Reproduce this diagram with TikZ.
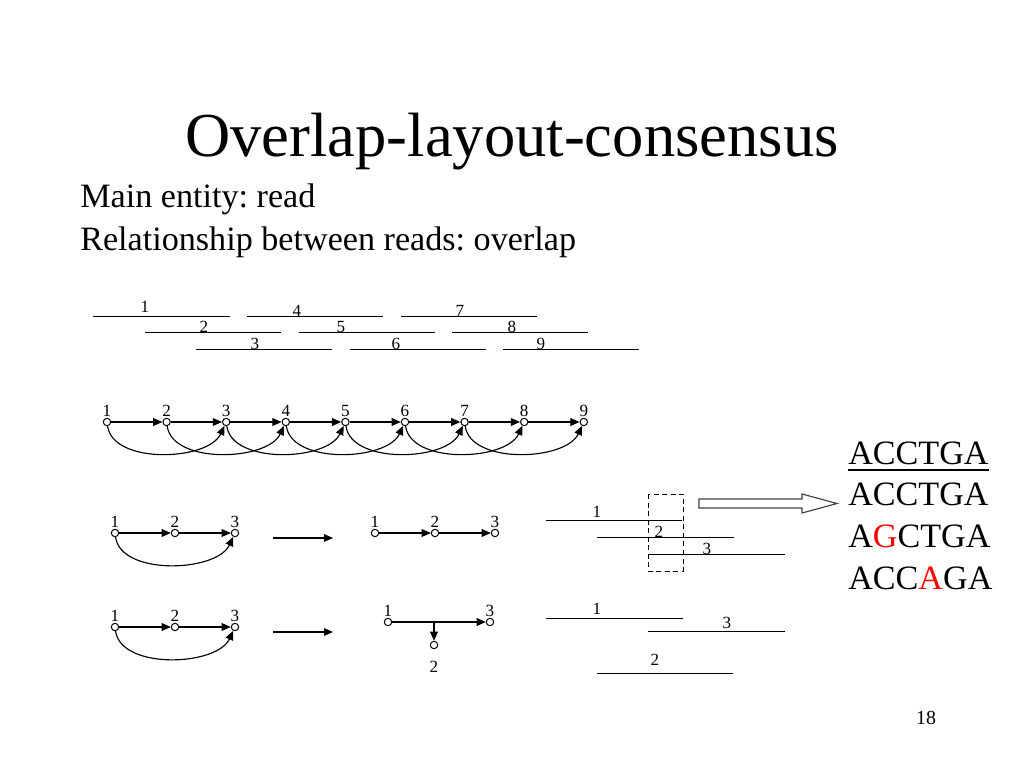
\documentclass[tikz,border=0pt]{standalone}
\usepackage{fontspec}
\setmainfont{Liberation Serif}
\usetikzlibrary{arrows.meta}
\frenchspacing
\begin{document}
\begin{tikzpicture}[x=0.703125pt,y=-0.703125pt,
  every node/.style={inner sep=0pt},
  thin line/.style={line width=0.7pt},
  arr/.style={line width=0.8pt,-{Triangle[length=6.5pt,width=5.5pt]}},
  vtx/.style={circle,draw,line width=0.7pt,fill=white,minimum size=5.2pt,inner sep=0pt},
  lbl/.style={font=\fontsize{12}{14}\selectfont},
  big/.style={font=\fontsize{24}{28}\selectfont,anchor=base west},
  curv/.style={arr,out=-82,in=-115,looseness=0.85}]
\useasboundingbox (0,0) rectangle (1024,768);

% title and text
\node[font=\fontsize{44}{50}\selectfont,anchor=base] (title) at (512,157) {Overlap-layout-consensus};
\node[big] (t1) at (80,208) {Main entity: read};
\node[big] (t2) at (80,251) {Relationship between reads: overlap};
\node[font=\fontsize{14}{16}\selectfont,anchor=base] (pg) at (926,724) {18};

% top reads
\foreach \xa/\xb/\y/\lx/\ly/\t in {
   93/230/316/145/307/1, 247/383/316/297/311/4, 401/537/316/460/311/7,
   145/281/332/204/327/2, 299/435/332/341/327/5, 452/588/332/512/327/8,
   196/332/349/255/344/3, 350/486/349/396/344/6, 503/639/349/541/344/9}{
  \draw[thin line] (\xa,\y) -- (\xb,\y);
  \node[lbl] (r\t) at (\lx,\ly) {\t};
}

% graph 1
\foreach \i in {1,...,9}{
  \node[vtx,label={[lbl,label distance=0.5pt]above:\i}] (g\i) at ({107+59.6*(\i-1)},422) {};
}
\foreach \i [evaluate=\i as \j using int(\i+1)] in {1,...,8}{
  \draw[arr] (g\i) -- (g\j);
}
\foreach \i [evaluate=\i as \j using int(\i+2)] in {1,...,7}{
  \draw[curv] (g\i) to (g\j);
}

% middle small graphs
\node[vtx,label={[lbl,label distance=0.5pt]above:1}] (a1) at (115,533) {};
\node[vtx,label={[lbl,label distance=0.5pt]above:2}] (a2) at (175,533) {};
\node[vtx,label={[lbl,label distance=0.5pt]above:3}] (a3) at (235,533) {};
\draw[arr] (a1) -- (a2);
\draw[arr] (a2) -- (a3);
\draw[curv] (a1) to (a3);
\coordinate (m1s) at (273,538);
\coordinate (m1e) at (333,538);
\draw[arr] (m1s) -- (m1e);
\node[vtx,label={[lbl,label distance=0.5pt]above:1}] (b1) at (375,533) {};
\node[vtx,label={[lbl,label distance=0.5pt]above:2}] (b2) at (435,533) {};
\node[vtx,label={[lbl,label distance=0.5pt]above:3}] (b3) at (495,533) {};
\draw[arr] (b1) -- (b2);
\draw[arr] (b2) -- (b3);

% bottom small graphs
\node[vtx,label={[lbl,label distance=0.5pt]above:1}] (c1) at (115,627) {};
\node[vtx,label={[lbl,label distance=0.5pt]above:2}] (c2) at (175,627) {};
\node[vtx,label={[lbl,label distance=0.5pt]above:3}] (c3) at (235,627) {};
\draw[arr] (c1) -- (c2);
\draw[arr] (c2) -- (c3);
\draw[curv] (c1) to (c3);
\coordinate (m2s) at (273,632);
\coordinate (m2e) at (333,632);
\draw[arr] (m2s) -- (m2e);
\node[vtx,label={[lbl,label distance=0.5pt]above:1}] (d1) at (388,622) {};
\node[vtx,label={[lbl,label distance=0.5pt]above:3}] (d3) at (490,622) {};
\node[vtx,label={[lbl,label distance=8pt]below:2}] (d2) at (434,645) {};
\draw[arr] (d1) -- (d3);
\coordinate (dj) at (434,622);
\draw[arr] (dj) -- (d2);

% middle reads
\draw[thin line] (546,520) -- (682,520);
\node[lbl] (s1) at (597,512) {1};
\draw[thin line] (597,537) -- (734,537);
\node[lbl] (s2) at (659,532) {2};
\draw[thin line] (648,554) -- (785,554);
\node[lbl] (s3) at (707,549) {3};
\draw[thin line,dash pattern=on 3.5pt off 2.5pt] (648,494) rectangle (683,571);

% hollow arrow
\draw[line width=0.8pt,draw=black!75] (699,499) -- (802,499) -- (802,494) -- (837,503.5) -- (802,513) -- (802,508) -- (699,508) -- cycle;

% bottom reads
\draw[thin line] (546,618) -- (683,618);
\node[lbl] (u1) at (597,609) {1};
\draw[thin line] (648,631) -- (785,631);
\node[lbl] (u3) at (727,623) {3};
\draw[thin line] (597,673) -- (733,673);
\node[lbl] (u2) at (655,660) {2};

% consensus
\node[big] (q0) at (848,464) {ACCTGA};
\draw[line width=1.3pt] ([yshift=-4.3pt]q0.base west) -- ([yshift=-4.3pt]q0.base east);
\node[big] (q1) at (848,505) {ACCTGA};
\node[big] (q2) at (848,547) {A\textcolor{red}{G}CTGA};
\node[big] (q3) at (848,589) {ACC\textcolor{red}{A}GA};
\end{tikzpicture}
\end{document}
